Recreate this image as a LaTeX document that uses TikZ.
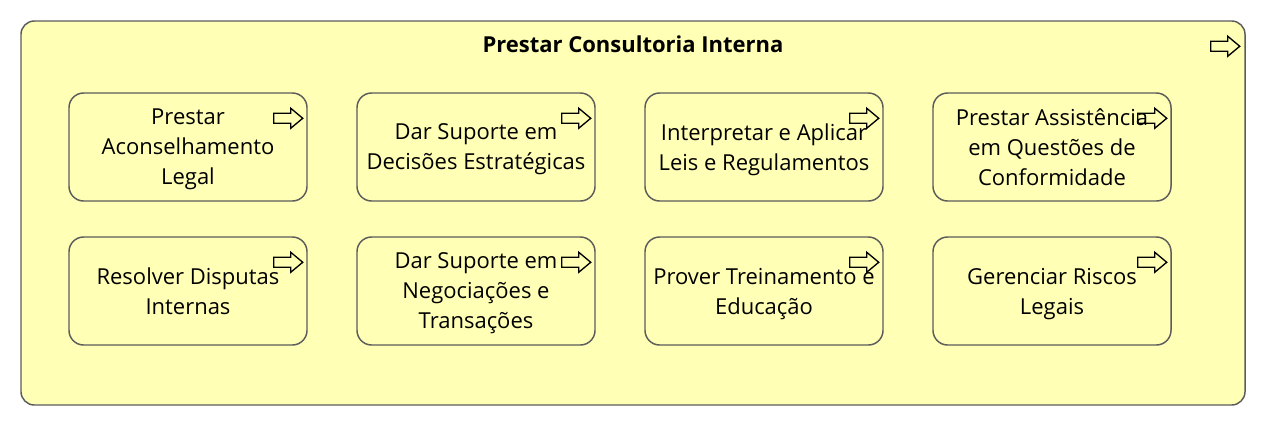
\documentclass[tikz,border=0pt]{standalone}
\usepackage{fontspec}
\setmainfont{Open Sans}
\definecolor{bizyellow}{HTML}{FFFFB5}
\definecolor{bizline}{HTML}{5C5C5C}
\tikzset{
  procbox/.style={draw=bizline,fill=bizyellow,line width=1.1pt,rounded corners=11pt,
    minimum width=178.5pt,minimum height=81pt,align=center,inner sep=0pt,
    font=\fontsize{16.5}{22.5}\selectfont,text depth=0pt},
  procicon/.pic={\draw[black,line width=1pt,line join=miter]
    (0,-5) -- (17,-5) -- (17,-10) -- (29,0) -- (17,10) -- (17,5) -- (0,5) -- cycle;}
}
\begin{document}
\begin{tikzpicture}[x=0.75pt,y=-0.75pt]
\useasboundingbox (0,0) rectangle (1266,426);
%%%% Outer process
    \node[draw=bizline,fill=bizyellow,line width=1.1pt,rounded corners=10pt,minimum width=918pt,minimum height=288pt] (consultoria) at (633,213) {};
    \node[font=\fontsize{16.5}{22.5}\selectfont\bfseries] (titulo) at (633,44) {Prestar Consultoria Interna};
    \pic at ([xshift=-26.25pt,yshift=-19.5pt]consultoria.north east) {procicon};
%%%% Inner processes, first row
    \node[procbox] (aconselhamento) at (188,147) {Prestar\\Aconselhamento\\Legal};
    \node[procbox] (decisoes) at (476,147) {Dar Suporte em\\Decisões Estratégicas};
    \node[procbox] (leis) at (764,147) {Interpretar e Aplicar\\Leis e Regulamentos};
    \node[procbox] (conformidade) at (1052,147) {Prestar Assistência\\em Questões de\\Conformidade};
%%%% Inner processes, second row
    \node[procbox] (disputas) at (188,291) {Resolver Disputas\\Internas};
    \node[procbox] (negociacoes) at (476,291) {Dar Suporte em\\Negociações e\\Transações};
    \node[procbox] (treinamento) at (764,291) {Prover Treinamento e\\Educação};
    \node[procbox] (riscos) at (1052,291) {Gerenciar Riscos\\Legais};
%%%% Process icons
    \foreach \n in {aconselhamento,decisoes,leis,conformidade,disputas,negociacoes,treinamento,riscos}
      \pic at ([xshift=-25.5pt,yshift=-19.5pt]\n.north east) {procicon};
\end{tikzpicture}
\end{document}
